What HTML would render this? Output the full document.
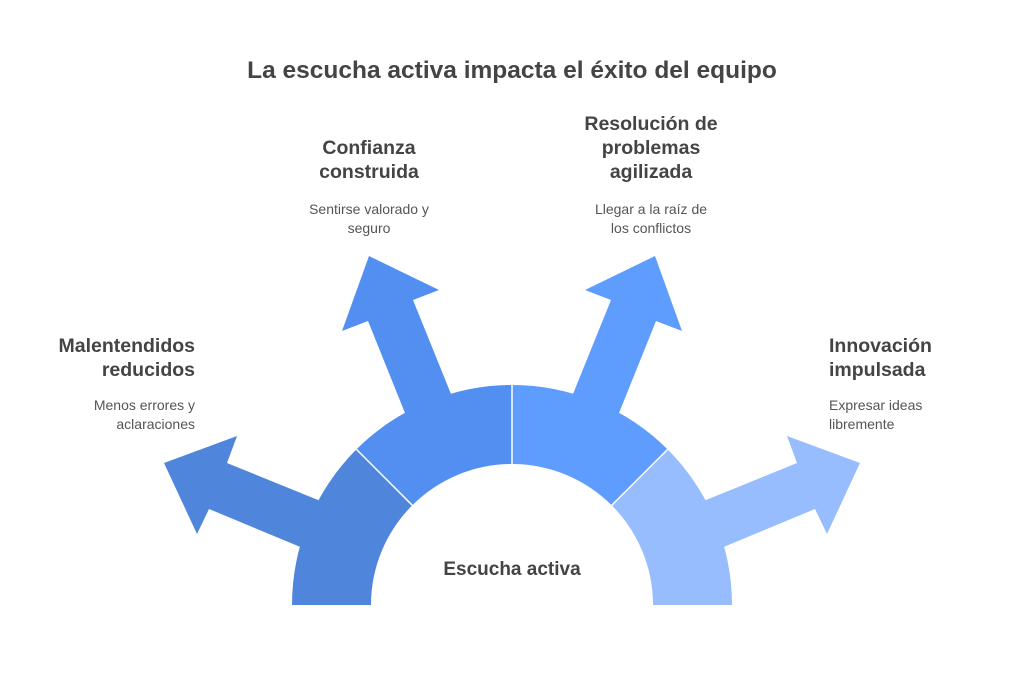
<!DOCTYPE html>
<html><head><meta charset="utf-8"><style>
body{margin:0;width:1024px;height:680px;background:#fff;overflow:hidden;font-family:"Liberation Sans",sans-serif}
</style></head><body>
<svg width="1024" height="680" viewBox="0 0 1024 680" xmlns="http://www.w3.org/2000/svg" font-family="Liberation Sans, sans-serif">
<text x="512" y="78" text-anchor="middle" font-size="24.5" font-weight="bold" fill="#444">La escucha activa impacta el éxito del equipo</text>
<polygon fill="#4F86DC" points="318,500 227,463 237,436 164,463 197,534 209,509 298,546 330,560 340,510"/>
<polygon fill="#528FF0" points="405,413 368,321 342,331 369,256 439,290 413,300 451,394 460,420 400,440"/>
<polygon fill="#5E9CFE" points="619,413 656,321 682,331 655,256 585,290 611,300 573,394 564,420 624,440"/>
<polygon fill="#97BDFE" points="706,500 797,463 787,436 860,463 827,534 815,509 726,546 694,560 684,510"/>
<path fill="#4F86DC" d="M292 605 A220 220 0 0 1 356.4 449.4 L412.3 505.3 A141 141 0 0 0 371 605 Z"/>
<path fill="#528FF0" d="M356.4 449.4 A220 220 0 0 1 512 385 L512 464 A141 141 0 0 0 412.3 505.3 Z"/>
<path fill="#5E9CFE" d="M667.6 449.4 A220 220 0 0 0 512 385 L512 464 A141 141 0 0 1 611.7 505.3 Z"/>
<path fill="#97BDFE" d="M732 605 A220 220 0 0 0 667.6 449.4 L611.7 505.3 A141 141 0 0 1 653 605 Z"/>
<g stroke="#fff" stroke-width="1.5">
<line x1="356.4" y1="449.4" x2="412.3" y2="505.3"/>
<line x1="512" y1="385" x2="512" y2="464"/>
<line x1="667.6" y1="449.4" x2="611.7" y2="505.3"/>
</g>
<text x="512" y="575" text-anchor="middle" font-size="19" font-weight="bold" fill="#444">Escucha activa</text>
<g font-size="19.5" font-weight="bold" fill="#444">
<text x="195" y="352" text-anchor="end">Malentendidos</text>
<text x="195" y="376" text-anchor="end">reducidos</text>
<text x="369" y="154" text-anchor="middle">Confianza</text>
<text x="369" y="178" text-anchor="middle">construida</text>
<text x="651" y="130" text-anchor="middle">Resolución de</text>
<text x="651" y="154" text-anchor="middle">problemas</text>
<text x="651" y="178" text-anchor="middle">agilizada</text>
<text x="829" y="352">Innovación</text>
<text x="829" y="376">impulsada</text>
</g>
<g font-size="14" fill="#555">
<text x="195" y="410" text-anchor="end">Menos errores y</text>
<text x="195" y="429" text-anchor="end">aclaraciones</text>
<text x="369" y="214" text-anchor="middle">Sentirse valorado y</text>
<text x="369" y="233" text-anchor="middle">seguro</text>
<text x="651" y="214" text-anchor="middle">Llegar a la raíz de</text>
<text x="651" y="233" text-anchor="middle">los conflictos</text>
<text x="829" y="410">Expresar ideas</text>
<text x="829" y="429">libremente</text>
</g>
</svg>
</body></html>
